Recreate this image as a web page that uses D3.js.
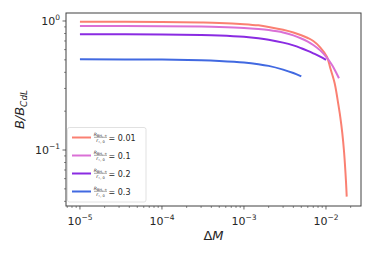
<!DOCTYPE html>
<html><head><meta charset="utf-8">
<script src="https://cdn.jsdelivr.net/npm/d3@7"></script>
<style>body{margin:0;background:#fff}svg{display:block}text{font-family:"DejaVu Sans",sans-serif;fill:#262626}</style>
</head><body><svg id="c" width="374" height="257"></svg>
<script>
const seriesLabels = ["0.01", "0.1", "0.2", "0.3"];
const seriesColors = ["#fa8072", "#da70d6", "#8a2be2", "#4169e1"];
const redX = [1e-5, 1e-4, 3e-4, 5e-4, 1e-3, 1.5e-3, 2e-3, 3e-3, 4e-3, 5e-3, 6e-3, 7e-3, 8.5e-3, 1.03e-2, 1.13e-2, 1.276e-2, 1.4e-2, 1.493e-2, 1.58e-2, 1.66e-2, 1.755e-2, 1.79e-2];
const redY = [0.988, 0.984, 0.975, 0.967, 0.945, 0.925, 0.90, 0.855, 0.815, 0.775, 0.738, 0.70, 0.625, 0.526, 0.43, 0.329, 0.235, 0.181, 0.136, 0.0973, 0.0565, 0.0435];
const pinkX = [1e-5, 1e-4, 3e-4, 5e-4, 1e-3, 1.5e-3, 2e-3, 3e-3, 4e-3, 5e-3, 6e-3, 7e-3, 8.5e-3, 1e-2, 1.1e-2, 1.2e-2, 1.3e-2, 1.44e-2];
const pinkY = [0.915, 0.912, 0.905, 0.899, 0.884, 0.867, 0.850, 0.814, 0.773, 0.732, 0.692, 0.652, 0.592, 0.530, 0.49, 0.450, 0.41, 0.36];
const purpleX = [1e-5, 1e-4, 3e-4, 5e-4, 1e-3, 1.5e-3, 2e-3, 3e-3, 4e-3, 5e-3, 6e-3, 7e-3, 8.5e-3, 1e-2];
const purpleY = [0.789, 0.786, 0.779, 0.772, 0.754, 0.735, 0.716, 0.680, 0.647, 0.615, 0.587, 0.562, 0.530, 0.50];
const blueX = [1e-5, 1e-4, 3e-4, 5e-4, 1e-3, 1.5e-3, 2e-3, 3e-3, 4e-3, 5e-3];
const blueY = [0.505, 0.502, 0.496, 0.490, 0.477, 0.463, 0.449, 0.420, 0.395, 0.372];
const xTickExp = [-5, -4, -3, -2];
const yTickExp = [-1, 0];

const svg = d3.select("#c");
const L = 66, R = 361, T = 13, B = 206;
const x = d3.scaleLog().domain([Math.pow(10, -5.17), Math.pow(10, -1.573)]).range([L, R]);
const y = d3.scaleLog().domain([Math.pow(10, -1.434), Math.pow(10, 0.062)]).range([B, T]);

const series = [[redX, redY], [pinkX, pinkY], [purpleX, purpleY], [blueX, blueY]];
const line = d3.line().x(d => x(d[0])).y(d => y(d[1])).curve(d3.curveCatmullRom.alpha(0.5));
svg.append("clipPath").attr("id", "pc").append("rect").attr("x", L).attr("y", T).attr("width", R - L).attr("height", B - T);
series.forEach((s, i) => {
  const pts = s[0].map((v, j) => [v, s[1][j]]);
  svg.append("path").attr("d", line(pts)).attr("fill", "none").attr("stroke", seriesColors[i])
    .attr("stroke-width", 2).attr("stroke-linecap", "butt").attr("clip-path", "url(#pc)");
});

// frame
svg.append("rect").attr("x", L).attr("y", T).attr("width", R - L).attr("height", B - T)
  .attr("fill", "none").attr("stroke", "#404040").attr("stroke-width", 1);

// x ticks
const xMinor = [];
for (let e = -6; e <= -1; e++) for (let m = 2; m <= 9; m++) { const v = m * Math.pow(10, e); if (x(v) >= L && x(v) <= R) xMinor.push(v); }
const xAxis = svg.append("g").attr("transform", `translate(0,${B})`);
xAxis.selectAll(".mi").data(xMinor).enter().append("line").attr("x1", d => x(d)).attr("x2", d => x(d)).attr("y1", 0).attr("y2", 2).attr("stroke", "#404040").attr("stroke-width", 0.6);
xAxis.selectAll(".ma").data(xTickExp).enter().append("line").attr("x1", d => x(Math.pow(10, d))).attr("x2", d => x(Math.pow(10, d))).attr("y1", 0).attr("y2", 3.5).attr("stroke", "#404040").attr("stroke-width", 0.8);
xTickExp.forEach(e => {
  const t = xAxis.append("text").attr("x", x(Math.pow(10, e))).attr("y", 19).attr("text-anchor", "middle").attr("font-size", 11);
  t.append("tspan").text("10");
  t.append("tspan").attr("dy", -5).attr("font-size", 7.5).text("\u2212" + Math.abs(e));
});

// y ticks
const yMinor = [];
for (let e = -2; e <= 0; e++) for (let m = 2; m <= 9; m++) { const v = m * Math.pow(10, e); if (y(v) >= T && y(v) <= B) yMinor.push(v); }
const yAxis = svg.append("g").attr("transform", `translate(${L},0)`);
yAxis.selectAll(".mi").data(yMinor).enter().append("line").attr("y1", d => y(d)).attr("y2", d => y(d)).attr("x1", 0).attr("x2", -2).attr("stroke", "#404040").attr("stroke-width", 0.6);
yAxis.selectAll(".ma").data(yTickExp).enter().append("line").attr("y1", d => y(Math.pow(10, d))).attr("y2", d => y(Math.pow(10, d))).attr("x1", 0).attr("x2", -3.5).attr("stroke", "#404040").attr("stroke-width", 0.8);
yTickExp.forEach(e => {
  const t = yAxis.append("text").attr("x", -6).attr("y", y(Math.pow(10, e)) + 4).attr("text-anchor", "end").attr("font-size", 11);
  t.append("tspan").text("10");
  t.append("tspan").attr("dy", -5).attr("font-size", 7.5).text(e < 0 ? "\u2212" + Math.abs(e) : "0");
});

// axis labels
svg.append("text").attr("x", (L + R) / 2).attr("y", 240).attr("text-anchor", "middle").attr("font-size", 13)
  .html('\u0394<tspan font-style="italic">M</tspan>');
const yl = svg.append("text").attr("transform", `translate(24,${(T + B) / 2}) rotate(-90)`).attr("text-anchor", "middle").attr("font-size", 13).attr("font-style", "italic");
yl.append("tspan").text("B/B");
yl.append("tspan").attr("font-size", 9).attr("dy", 3).text("CdL");

// legend
const lg = svg.append("g");
lg.append("rect").attr("x", 67.5).attr("y", 127.5).attr("width", 78.5).attr("height", 74.5).attr("rx", 2)
  .attr("fill", "#fff").attr("fill-opacity", 0.8).attr("stroke", "#d9d9d9").attr("stroke-width", 0.8);
seriesLabels.forEach((lab, i) => {
  const cy = 137.5 + i * 18;
  lg.append("line").attr("x1", 72).attr("x2", 91).attr("y1", cy).attr("y2", cy).attr("stroke", seriesColors[i]).attr("stroke-width", 2);
  lg.append("text").attr("x", 100.5).attr("y", cy - 1.5).attr("text-anchor", "middle").attr("font-size", 4.6)
    .html('<tspan font-style="italic">R</tspan><tspan font-size="3.6" dy="0.8">BH, +</tspan>');
  lg.append("line").attr("x1", 94).attr("x2", 107).attr("y1", cy - 0.2).attr("y2", cy - 0.2).attr("stroke", "#262626").attr("stroke-width", 0.4);
  lg.append("text").attr("x", 100.5).attr("y", cy + 4.2).attr("text-anchor", "middle").attr("font-size", 4.6)
    .html('<tspan font-style="italic">r</tspan><tspan font-size="3.6" dy="0.8">\u22c6, 0</tspan>');
  lg.append("text").attr("x", 108.5).attr("y", cy + 3).attr("font-size", 8).text("= " + lab);
});
</script></body></html>
